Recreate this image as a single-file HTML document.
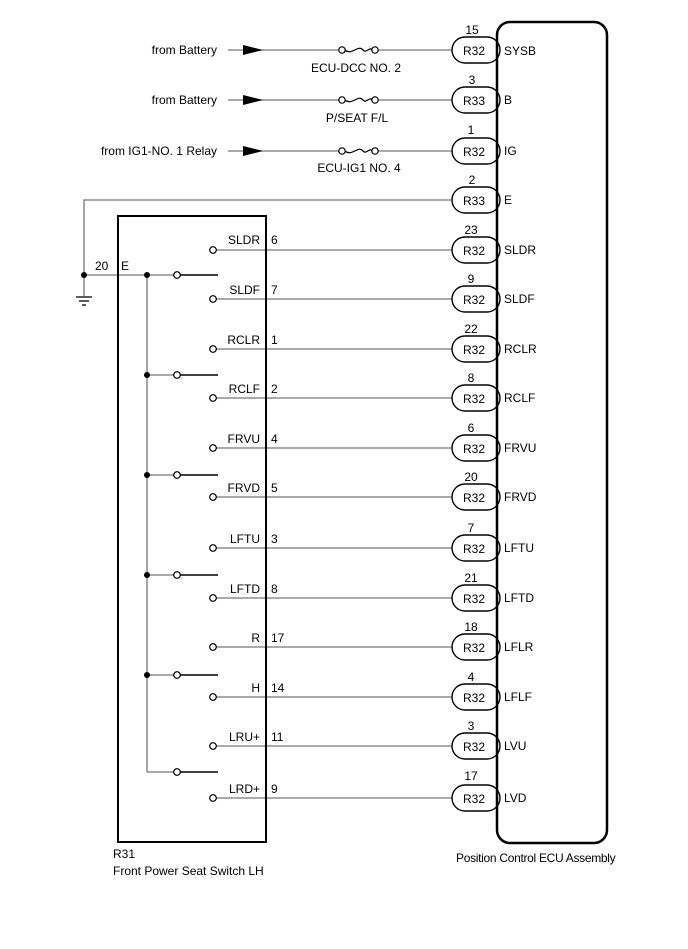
<!DOCTYPE html>
<html><head><meta charset="utf-8"><style>
html,body{margin:0;padding:0;background:#fff}
svg{display:block}
text{font-family:"Liberation Sans",Arial,sans-serif;font-size:12px;fill:#000}
</style></head><body>
<svg width="688" height="949" viewBox="0 0 688 949" xmlns="http://www.w3.org/2000/svg">
<!-- top supply wires -->
<g stroke="#777" stroke-width="1.3" fill="none">
<line x1="228" y1="50" x2="342" y2="50"/><line x1="375" y1="50" x2="452" y2="50"/>
<line x1="228" y1="100" x2="342" y2="100"/><line x1="375" y1="100" x2="452" y2="100"/>
<line x1="228" y1="151" x2="342" y2="151"/><line x1="375" y1="151" x2="452" y2="151"/>
<polyline points="84,296 84,200 452,200"/>
<line x1="84" y1="275" x2="177" y2="275"/>
<line x1="147" y1="275" x2="147" y2="772"/>
<line x1="147" y1="772" x2="177" y2="772"/>
<line x1="147" y1="375" x2="177" y2="375"/>
<line x1="147" y1="475" x2="177" y2="475"/>
<line x1="147" y1="575" x2="177" y2="575"/>
<line x1="147" y1="675" x2="177" y2="675"/>
</g>
<g fill="#000">
<polygon points="243,45 263,50 243,55"/>
<polygon points="243,95 263,100 243,105"/>
<polygon points="243,146 263,151 243,156"/>
</g>
<!-- fuses -->
<g stroke="#000" stroke-width="1.2" fill="#fff">
<path d="M345,50 C352,56 358,44 363,50 C366,54 370,46 372,50" fill="none"/>
<circle cx="342" cy="50" r="3.2"/><circle cx="375" cy="50" r="3.2"/>
<path d="M345,100 C352,106 358,94 363,100 C366,104 370,96 372,100" fill="none"/>
<circle cx="342" cy="100" r="3.2"/><circle cx="375" cy="100" r="3.2"/>
<path d="M345,151 C352,157 358,145 363,151 C366,155 370,147 372,151" fill="none"/>
<circle cx="342" cy="151" r="3.2"/><circle cx="375" cy="151" r="3.2"/>
</g>
<text x="217" y="54" text-anchor="end">from Battery</text>
<text x="217" y="104" text-anchor="end">from Battery</text>
<text x="217" y="155" text-anchor="end">from IG1-NO. 1 Relay</text>
<text x="356" y="72" text-anchor="middle">ECU-DCC NO. 2</text>
<text x="357" y="122" text-anchor="middle">P/SEAT F/L</text>
<text x="359" y="172" text-anchor="middle">ECU-IG1 NO. 4</text>
<!-- ground -->
<g stroke="#000" stroke-width="1.3">
<line x1="76" y1="297" x2="92" y2="297"/><line x1="79" y1="301" x2="89" y2="301"/><line x1="82" y1="305" x2="86" y2="305"/>
</g>
<g fill="#000">
<circle cx="84" cy="275" r="3"/><circle cx="147" cy="275" r="3"/><circle cx="147" cy="375" r="3"/>
<circle cx="147" cy="475" r="3"/><circle cx="147" cy="575" r="3"/><circle cx="147" cy="675" r="3"/>
</g>
<text x="95" y="270">20</text><text x="121" y="270">E</text>
<!-- switch arms -->
<g stroke="#000" stroke-width="1.5">
<line x1="180" y1="275" x2="218" y2="275"/><line x1="180" y1="375" x2="218" y2="375"/>
<line x1="180" y1="475" x2="218" y2="475"/><line x1="180" y1="575" x2="218" y2="575"/>
<line x1="180" y1="675" x2="218" y2="675"/><line x1="180" y1="772" x2="218" y2="772"/>
</g>
<g stroke="#000" stroke-width="1.2" fill="#fff">
<circle cx="177" cy="275" r="3.3"/><circle cx="177" cy="375" r="3.3"/><circle cx="177" cy="475" r="3.3"/>
<circle cx="177" cy="575" r="3.3"/><circle cx="177" cy="675" r="3.3"/><circle cx="177" cy="772" r="3.3"/>
</g>
<!-- signal wires -->
<g stroke="#777" stroke-width="1.3">
<line x1="216" y1="250" x2="452" y2="250"/><line x1="216" y1="299" x2="452" y2="299"/>
<line x1="216" y1="349" x2="452" y2="349"/><line x1="216" y1="398" x2="452" y2="398"/>
<line x1="216" y1="448" x2="452" y2="448"/><line x1="216" y1="497" x2="452" y2="497"/>
<line x1="216" y1="548" x2="452" y2="548"/><line x1="216" y1="598" x2="452" y2="598"/>
<line x1="216" y1="647" x2="452" y2="647"/><line x1="216" y1="697" x2="452" y2="697"/>
<line x1="216" y1="746" x2="452" y2="746"/><line x1="216" y1="798" x2="452" y2="798"/>
</g>
<g stroke="#000" stroke-width="1.2" fill="#fff">
<circle cx="213" cy="250" r="3.3"/><circle cx="213" cy="299" r="3.3"/><circle cx="213" cy="349" r="3.3"/>
<circle cx="213" cy="398" r="3.3"/><circle cx="213" cy="448" r="3.3"/><circle cx="213" cy="497" r="3.3"/>
<circle cx="213" cy="548" r="3.3"/><circle cx="213" cy="598" r="3.3"/><circle cx="213" cy="647" r="3.3"/>
<circle cx="213" cy="697" r="3.3"/><circle cx="213" cy="746" r="3.3"/><circle cx="213" cy="798" r="3.3"/>
</g>
<!-- switch box -->
<rect x="118" y="216" width="148" height="626" fill="none" stroke="#000" stroke-width="2"/>
<g text-anchor="end">
<text x="260" y="244">SLDR</text><text x="260" y="294">SLDF</text><text x="260" y="344">RCLR</text>
<text x="260" y="393">RCLF</text><text x="260" y="443">FRVU</text><text x="260" y="492">FRVD</text>
<text x="260" y="543">LFTU</text><text x="260" y="593">LFTD</text><text x="260" y="642">R</text>
<text x="260" y="692">H</text><text x="260" y="741">LRU+</text><text x="260" y="793">LRD+</text>
</g>
<g>
<text x="271" y="244">6</text><text x="271" y="294">7</text><text x="271" y="344">1</text>
<text x="271" y="393">2</text><text x="271" y="443">4</text><text x="271" y="492">5</text>
<text x="271" y="543">3</text><text x="271" y="593">8</text><text x="271" y="642">17</text>
<text x="271" y="692">14</text><text x="271" y="741">11</text><text x="271" y="793">9</text>
</g>
<text x="113" y="858">R31</text>
<text x="113" y="875">Front Power Seat Switch LH</text>
<!-- pills -->
<g stroke="#000" stroke-width="1.4" fill="#fff">
<rect x="452" y="37" width="48" height="26" rx="13"/><rect x="452" y="87" width="48" height="26" rx="13"/>
<rect x="452" y="138" width="48" height="26" rx="13"/><rect x="452" y="187" width="48" height="26" rx="13"/>
<rect x="452" y="237" width="48" height="26" rx="13"/><rect x="452" y="286" width="48" height="26" rx="13"/>
<rect x="452" y="336" width="48" height="26" rx="13"/><rect x="452" y="385" width="48" height="26" rx="13"/>
<rect x="452" y="435" width="48" height="26" rx="13"/><rect x="452" y="484" width="48" height="26" rx="13"/>
<rect x="452" y="535" width="48" height="26" rx="13"/><rect x="452" y="585" width="48" height="26" rx="13"/>
<rect x="452" y="634" width="48" height="26" rx="13"/><rect x="452" y="684" width="48" height="26" rx="13"/>
<rect x="452" y="733" width="48" height="26" rx="13"/><rect x="452" y="785" width="48" height="26" rx="13"/>
</g>
<rect x="497" y="22" width="110" height="821" rx="13" fill="none" stroke="#000" stroke-width="2.5"/>
<g text-anchor="middle">
<text x="474" y="55">R32</text><text x="474" y="105">R33</text><text x="474" y="156">R32</text>
<text x="474" y="205">R33</text><text x="474" y="255">R32</text><text x="474" y="304">R32</text>
<text x="474" y="354">R32</text><text x="474" y="403">R32</text><text x="474" y="453">R32</text>
<text x="474" y="502">R32</text><text x="474" y="553">R32</text><text x="474" y="603">R32</text>
<text x="474" y="652">R32</text><text x="474" y="702">R32</text><text x="474" y="751">R32</text>
<text x="474" y="803">R32</text>
<text x="472" y="34">15</text><text x="472" y="84">3</text><text x="471" y="134">1</text>
<text x="472" y="184">2</text><text x="471" y="234">23</text><text x="471" y="283">9</text>
<text x="471" y="333">22</text><text x="471" y="382">8</text><text x="471" y="432">6</text>
<text x="471" y="481">20</text><text x="471" y="532">7</text><text x="471" y="582">21</text>
<text x="471" y="631">18</text><text x="471" y="681">4</text><text x="471" y="730">3</text>
<text x="471" y="780">17</text>
</g>
<g>
<text x="504" y="55">SYSB</text><text x="504" y="104">B</text><text x="504" y="155">IG</text>
<text x="504" y="204">E</text><text x="504" y="254">SLDR</text><text x="504" y="303">SLDF</text>
<text x="504" y="353">RCLR</text><text x="504" y="402">RCLF</text><text x="504" y="452">FRVU</text>
<text x="504" y="501">FRVD</text><text x="504" y="552">LFTU</text><text x="504" y="602">LFTD</text>
<text x="504" y="651">LFLR</text><text x="504" y="701">LFLF</text><text x="504" y="750">LVU</text>
<text x="504" y="802">LVD</text>
</g>
<text x="456" y="862" letter-spacing="-0.3">Position Control ECU Assembly</text>
</svg>
</body></html>
